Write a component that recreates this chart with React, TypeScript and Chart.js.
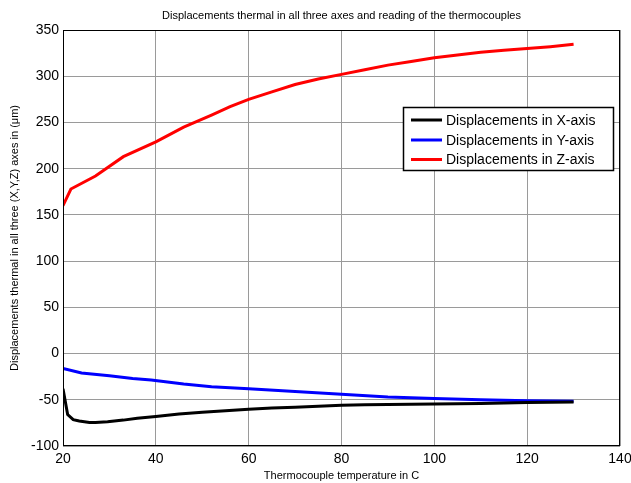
import React, { useEffect, useRef } from "react";
import { Chart, registerables } from "chart.js";

Chart.register(...registerables);

const chartTitle = "Displacements thermal in all three axes and reading of the thermocouples";
const xAxisTitle = "Thermocouple temperature in C";
const yAxisTitle = "Displacements thermal in all three (X,Y,Z) axes in (\u03bcm)";

const xTicks = [20, 40, 60, 80, 100, 120, 140];
const yTicks = [-100, -50, 0, 50, 100, 150, 200, 250, 300, 350];

const seriesNames = ["Displacements in X-axis", "Displacements in Y-axis", "Displacements in Z-axis"];
const seriesColors = ["#000000", "#0000ff", "#ff0000"];

const xTemps = [20, 21, 22.2, 23.5, 25.7, 27, 29.6, 33, 36, 40, 45, 50, 55, 60, 65, 70, 75, 80, 85, 90, 95, 100, 105, 110, 115, 120, 125, 130];
const xDisp = [-38, -66, -71.5, -73, -74.5, -74.5, -73.7, -72, -70, -68, -65.5, -63.5, -62, -60.2, -59, -58, -57, -56, -55.5, -55, -54.8, -54.5, -54.2, -54, -53.5, -53, -52.8, -52.5];

const yTemps = [20, 24, 30, 35, 39, 46, 52, 56, 60, 70, 80, 90, 100, 110, 120, 130];
const yDisp = [-16, -21, -24, -27, -28.5, -33, -36, -37, -38, -41, -44, -47, -48.5, -50, -51, -51.5];

const zTemps = [20, 21.7, 27, 33, 40, 46, 52, 56, 60, 65, 70, 75, 80, 85, 90, 95, 100, 105, 110, 115, 120, 125, 130];
const zDisp = [160, 178, 192, 213, 229, 245, 258, 267, 275, 283, 291, 297, 302, 307, 312, 316, 320, 323, 326, 328, 330, 332, 334.5];

const FONT = "'Liberation Sans', Arial, Helvetica, sans-serif";

export default function App() {
  const ref = useRef<HTMLCanvasElement | null>(null);

  useEffect(() => {
    document.body.style.margin = "0";
    const canvas = ref.current;
    if (!canvas) return;

    const toPts = (xs: number[], ys: number[]) => xs.map((x, i) => ({ x, y: ys[i] }));

    const decor = {
      id: "decor",
      afterDraw(chart: any) {
        const { ctx, chartArea } = chart;
        const { left, right, top, bottom } = chartArea;
        ctx.save();
        // box
        ctx.strokeStyle = "#000";
        ctx.lineWidth = 1;
        ctx.strokeRect(left + 0.5, top + 0.5, right - left - 1, bottom - top - 1);
        // titles
        ctx.fillStyle = "#000";
        ctx.textAlign = "center";
        ctx.textBaseline = "middle";
        ctx.font = `11px ${FONT}`;
        ctx.fillText(chartTitle, (left + right) / 2, 16);
        ctx.fillText(xAxisTitle, (left + right) / 2, 476);
        ctx.save();
        ctx.translate(15, (top + bottom) / 2);
        ctx.rotate(-Math.PI / 2);
        ctx.fillText(yAxisTitle, 0, 0);
        ctx.restore();
        // legend
        const lx = 403, ly = 107, lw = 210, lh = 63;
        ctx.fillStyle = "#fff";
        ctx.fillRect(lx, ly, lw, lh);
        ctx.strokeStyle = "#000";
        ctx.lineWidth = 1.5;
        ctx.strokeRect(lx + 0.5, ly + 0.5, lw, lh);
        const rows = [120, 140, 159.5];
        ctx.font = `14px ${FONT}`;
        ctx.textAlign = "left";
        ctx.textBaseline = "middle";
        seriesNames.forEach((name, i) => {
          ctx.strokeStyle = seriesColors[i];
          ctx.lineWidth = 3;
          ctx.beginPath();
          ctx.moveTo(411, rows[i]);
          ctx.lineTo(442, rows[i]);
          ctx.stroke();
          ctx.fillStyle = "#000";
          ctx.fillText(name, 446, rows[i] + 1);
        });
        ctx.restore();
      },
    };

    const chart = new Chart(canvas, {
      type: "scatter",
      data: {
        datasets: [
          { label: seriesNames[0], data: toPts(xTemps, xDisp) },
          { label: seriesNames[1], data: toPts(yTemps, yDisp) },
          { label: seriesNames[2], data: toPts(zTemps, zDisp) },
        ].map((d, i) => ({
          ...d,
          showLine: true,
          borderColor: seriesColors[i],
          backgroundColor: seriesColors[i],
          borderWidth: 3,
          pointRadius: 0,
          tension: 0,
        })),
      },
      options: {
        animation: false,
        responsive: false,
        devicePixelRatio: 1,
        layout: { padding: { top: 30, right: 11, left: 0, bottom: 0 } },
        plugins: {
          legend: { display: false },
          title: { display: false },
          tooltip: { enabled: false },
        },
        scales: {
          x: {
            type: "linear",
            min: 20,
            max: 140,
            afterBuildTicks: (s: any) => {
              s.ticks = xTicks.map((v) => ({ value: v }));
            },
            afterFit: (s: any) => {
              s.height = 37;
              s.paddingLeft = 0;
              s.paddingRight = 0;
            },
            grid: { color: "#9a9a9a", lineWidth: 1, drawTicks: false },
            border: { display: false },
            ticks: { color: "#000", font: { family: FONT, size: 14 }, padding: 5, maxRotation: 0 },
          },
          y: {
            type: "linear",
            min: -100,
            max: 350,
            afterBuildTicks: (s: any) => {
              s.ticks = yTicks.map((v) => ({ value: v }));
            },
            afterFit: (s: any) => {
              s.width = 63;
              s.paddingTop = 0;
              s.paddingBottom = 0;
            },
            grid: { color: "#9a9a9a", lineWidth: 1, drawTicks: false },
            border: { display: false },
            ticks: { color: "#000", font: { family: FONT, size: 14 }, padding: 4 },
          },
        },
      },
      plugins: [decor],
    } as any);

    return () => chart.destroy();
  }, []);

  return (
    <div style={{ position: "absolute", left: 0, top: 0, width: 631, height: 483, background: "#fff" }}>
      <canvas ref={ref} width={631} height={483} style={{ width: 631, height: 483, display: "block" }} />
    </div>
  );
}
